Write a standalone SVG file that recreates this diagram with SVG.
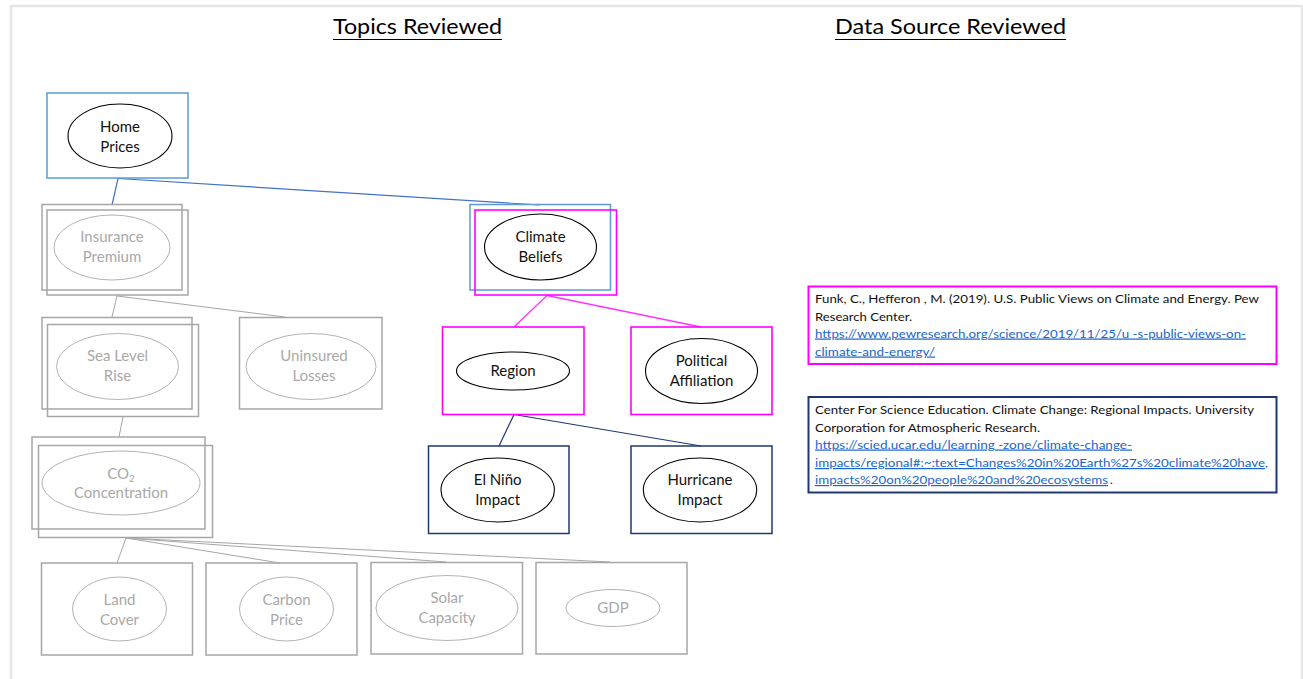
<svg xmlns="http://www.w3.org/2000/svg" width="1303" height="679" viewBox="0 0 1303 679">
  <style>
    text { font-family: Lato, "Open Sans", "Liberation Sans", sans-serif; }
    .title { font-size: 21px; fill: #000; }
    .lbl { font-size: 15px; text-anchor: middle; }
    .lbl-k { fill: #111; }
    .lbl-g { fill: #a9a9a9; }
    .box-blue { fill: none; stroke: #5b9bd5; stroke-width: 1.5; }
    .box-mag { fill: none; stroke: #ff00ff; stroke-width: 1.6; }
    .box-navy { fill: none; stroke: #1f3870; stroke-width: 1.5; }
    .box-gray { fill: none; stroke: #a6a6a6; stroke-width: 1.5; }
    .ell-k { fill: #fff; stroke: #000; stroke-width: 1.1; }
    .ell-g { fill: #fff; stroke: #b3b3b3; stroke-width: 1; }
    .cite { font-size: 12px; fill: #111; }
    .link { font-size: 12px; fill: #1a66cc; text-decoration: underline; }
    .c-blue { stroke: #4472c4; stroke-width: 1.2; fill: none; }
    .c-gray { stroke: #a6a6a6; stroke-width: 1; fill: none; }
    .c-mag { stroke: #ff33ff; stroke-width: 1.3; fill: none; }
    .c-navy { stroke: #1f3870; stroke-width: 1.2; fill: none; }
  </style>

  <!-- page frame -->
  <rect x="11" y="6" width="1291" height="700" fill="#fff" stroke="#e6e6e6" stroke-width="2.5"/>

  <!-- headings -->
  <g id="headings">
    <text class="title" x="333" y="34" textLength="169" lengthAdjust="spacingAndGlyphs">Topics Reviewed</text>
    <line x1="333" y1="39.5" x2="502" y2="39.5" stroke="#000" stroke-width="1.2"/>
    <text class="title" x="835" y="34" textLength="231" lengthAdjust="spacingAndGlyphs">Data Source Reviewed</text>
    <line x1="835" y1="39.5" x2="1066" y2="39.5" stroke="#000" stroke-width="1.2"/>
  </g>

  <!-- connectors -->
  <g id="connectors">
    <line class="c-blue" x1="118" y1="178.5" x2="112" y2="205"/>
    <line class="c-blue" x1="118" y1="178.5" x2="540" y2="205"/>
    <line class="c-gray" x1="117" y1="296" x2="112" y2="317"/>
    <line class="c-gray" x1="117" y1="296" x2="285" y2="317"/>
    <line class="c-gray" x1="123" y1="417" x2="119" y2="437"/>
    <line class="c-gray" x1="126" y1="538" x2="117" y2="563"/>
    <line class="c-gray" x1="126" y1="538" x2="280" y2="563"/>
    <line class="c-gray" x1="126" y1="538" x2="446" y2="562"/>
    <line class="c-gray" x1="126" y1="538" x2="610" y2="562"/>
    <line class="c-mag" x1="547" y1="295.5" x2="514" y2="327"/>
    <line class="c-mag" x1="547" y1="295.5" x2="701" y2="327"/>
    <line class="c-navy" x1="514" y1="414.5" x2="499" y2="446"/>
    <line class="c-navy" x1="514" y1="414.5" x2="701" y2="446"/>
  </g>

  <!-- Home Prices -->
  <g id="home-prices">
    <rect class="box-blue" x="47" y="93" width="141" height="85"/>
    <ellipse class="ell-k" cx="120" cy="136" rx="52" ry="32"/>
    <text class="lbl lbl-k" x="120" y="132">Home</text>
    <text class="lbl lbl-k" x="120" y="152">Prices</text>
  </g>

  <!-- Insurance Premium -->
  <g id="insurance-premium">
    <rect class="box-gray" x="42" y="204.5" width="140" height="85.5"/>
    <rect class="box-gray" x="47" y="210" width="141" height="85"/>
    <ellipse class="ell-g" cx="112" cy="247.5" rx="58" ry="32.5"/>
    <text class="lbl lbl-g" x="112" y="242">Insurance</text>
    <text class="lbl lbl-g" x="112" y="262">Premium</text>
  </g>

  <!-- Sea Level Rise -->
  <g id="sea-level-rise">
    <rect class="box-gray" x="42" y="317.5" width="150" height="91.5"/>
    <rect class="box-gray" x="47.5" y="324.5" width="151" height="92"/>
    <ellipse class="ell-g" cx="117.5" cy="366.5" rx="61" ry="33"/>
    <text class="lbl lbl-g" x="117.5" y="361">Sea Level</text>
    <text class="lbl lbl-g" x="117.5" y="381">Rise</text>
  </g>

  <!-- Uninsured Losses -->
  <g id="uninsured-losses">
    <rect class="box-gray" x="239.5" y="317.5" width="142.5" height="91.5"/>
    <ellipse class="ell-g" cx="311" cy="366.5" rx="65" ry="33"/>
    <text class="lbl lbl-g" x="314" y="361">Uninsured</text>
    <text class="lbl lbl-g" x="314" y="381">Losses</text>
  </g>

  <!-- CO2 Concentration -->
  <g id="co2-concentration">
    <rect class="box-gray" x="32" y="437" width="173" height="92"/>
    <rect class="box-gray" x="38.5" y="445.5" width="174" height="92"/>
    <ellipse class="ell-g" cx="121" cy="483" rx="79" ry="32"/>
    <text class="lbl lbl-g" x="121" y="479">CO<tspan font-size="10" dy="3">2</tspan></text>
    <text class="lbl lbl-g" x="121" y="498">Concentration</text>
  </g>

  <!-- bottom row -->
  <g id="land-cover">
    <rect class="box-gray" x="41.5" y="563" width="151" height="92"/>
    <ellipse class="ell-g" cx="119.5" cy="609" rx="47" ry="32"/>
    <text class="lbl lbl-g" x="119.5" y="605">Land</text>
    <text class="lbl lbl-g" x="119.5" y="625">Cover</text>
  </g>
  <g id="carbon-price">
    <rect class="box-gray" x="206" y="563" width="151" height="92"/>
    <ellipse class="ell-g" cx="286.5" cy="609" rx="47" ry="32"/>
    <text class="lbl lbl-g" x="286.5" y="605">Carbon</text>
    <text class="lbl lbl-g" x="286.5" y="625">Price</text>
  </g>
  <g id="solar-capacity">
    <rect class="box-gray" x="371" y="562.5" width="151.5" height="91.5"/>
    <ellipse class="ell-g" cx="447" cy="608" rx="71" ry="32.5"/>
    <text class="lbl lbl-g" x="447" y="603">Solar</text>
    <text class="lbl lbl-g" x="447" y="623">Capacity</text>
  </g>
  <g id="gdp">
    <rect class="box-gray" x="536" y="562.5" width="151" height="91.5"/>
    <ellipse class="ell-g" cx="613" cy="608" rx="47" ry="18.5"/>
    <text class="lbl lbl-g" x="613" y="613">GDP</text>
  </g>

  <!-- Climate Beliefs -->
  <g id="climate-beliefs">
    <rect class="box-blue" x="470" y="204.5" width="140.5" height="85.5"/>
    <rect class="box-mag" x="475" y="210" width="141.5" height="85"/>
    <ellipse class="ell-k" cx="540.5" cy="247" rx="56" ry="33"/>
    <text class="lbl lbl-k" x="540.5" y="242">Climate</text>
    <text class="lbl lbl-k" x="540.5" y="262">Beliefs</text>
  </g>

  <!-- Region -->
  <g id="region">
    <rect class="box-mag" x="442.5" y="327" width="141.5" height="87.5"/>
    <ellipse class="ell-k" cx="513" cy="371" rx="56.5" ry="19"/>
    <text class="lbl lbl-k" x="513" y="376">Region</text>
  </g>

  <!-- Political Affiliation -->
  <g id="political-affiliation">
    <rect class="box-mag" x="631" y="327" width="141" height="87.5"/>
    <ellipse class="ell-k" cx="701.5" cy="371" rx="56" ry="32.5"/>
    <text class="lbl lbl-k" x="701.5" y="366">Political</text>
    <text class="lbl lbl-k" x="701.5" y="386">Affiliation</text>
  </g>

  <!-- El Niño Impact -->
  <g id="el-nino-impact">
    <rect class="box-navy" x="428.5" y="446" width="140.5" height="87.5"/>
    <ellipse class="ell-k" cx="497.7" cy="490" rx="56.7" ry="32"/>
    <text class="lbl lbl-k" x="497.7" y="485">El Niño</text>
    <text class="lbl lbl-k" x="497.7" y="505">Impact</text>
  </g>

  <!-- Hurricane Impact -->
  <g id="hurricane-impact">
    <rect class="box-navy" x="631" y="446" width="141" height="87.5"/>
    <ellipse class="ell-k" cx="700" cy="490" rx="56.7" ry="32"/>
    <text class="lbl lbl-k" x="700" y="485">Hurricane</text>
    <text class="lbl lbl-k" x="700" y="505">Impact</text>
  </g>

  <!-- source citations -->
  <g id="source-pew">
    <rect x="808.5" y="286.5" width="468" height="77.5" fill="none" stroke="#ff00ff" stroke-width="2"/>
    <text class="cite" x="815" y="302.5" textLength="444" lengthAdjust="spacingAndGlyphs">Funk, C., Hefferon , M. (2019). U.S. Public Views on Climate and Energy. Pew</text>
    <text class="cite" x="815" y="320.5" textLength="97" lengthAdjust="spacingAndGlyphs">Research Center.</text>
    <text class="link" x="815" y="337.5" textLength="431" lengthAdjust="spacingAndGlyphs">https://www.pewresearch.org/science/2019/11/25/u -s-public-views-on-</text>
    <text class="link" x="815" y="355.5" textLength="120" lengthAdjust="spacingAndGlyphs">climate-and-energy/ </text>
  </g>

  <g id="source-ucar">
    <rect x="808.5" y="397" width="468" height="95.5" fill="none" stroke="#1f3870" stroke-width="2"/>
    <text class="cite" x="815" y="413.5" textLength="439" lengthAdjust="spacingAndGlyphs">Center For Science Education. Climate Change: Regional Impacts. University</text>
    <text class="cite" x="815" y="431.5" textLength="225" lengthAdjust="spacingAndGlyphs">Corporation for Atmospheric Research.</text>
    <text class="link" x="815" y="448.5" textLength="317" lengthAdjust="spacingAndGlyphs">https://scied.ucar.edu/learning -zone/climate-change-</text>
    <text class="link" x="815" y="467" textLength="453" lengthAdjust="spacingAndGlyphs">impacts/regional#:~:text=Changes%20in%20Earth%27s%20climate%20have, </text>
    <text class="link" x="815" y="484" textLength="293" lengthAdjust="spacingAndGlyphs">impacts%20on%20people%20and%20ecosystems </text>
    <text class="cite" x="1110" y="484">.</text>
  </g>
</svg>
